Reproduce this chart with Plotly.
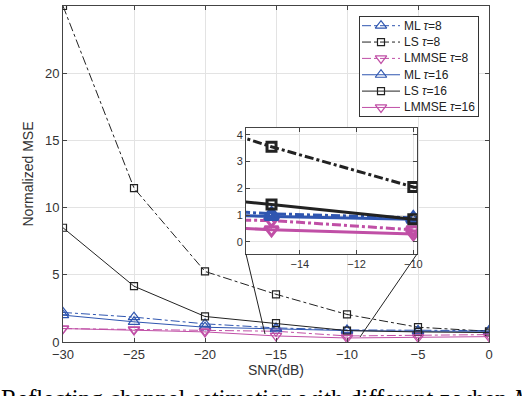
import plotly.graph_objects as go

snr = [-30, -25, -20, -15, -10, -5, 0]
ml_8 = [2.2, 1.85, 1.35, 1.05, 0.9, 0.85, 0.85]
ls_8 = [25.0, 11.45, 5.25, 3.55, 2.05, 1.1, 0.8]
lmmse_8 = [1.0, 0.95, 0.85, 0.8, 0.45, 0.5, 0.55]
ml_16 = [2.0, 1.5, 1.1, 0.95, 0.85, 0.8, 0.8]
ls_16 = [8.5, 4.15, 1.9, 1.4, 0.85, 0.75, 0.7]
lmmse_16 = [1.0, 0.9, 0.75, 0.45, 0.3, 0.35, 0.4]

names = ["ML <i>τ</i>=8", "LS <i>τ</i>=8", "LMMSE <i>τ</i>=8",
         "ML <i>τ</i>=16", "LS <i>τ</i>=16", "LMMSE <i>τ</i>=16"]
series = [ml_8, ls_8, lmmse_8, ml_16, ls_16, lmmse_16]
BLUE = "#2F56B0"
BLACK = "#222222"
PINK = "#C04FA6"
colors = [BLUE, BLACK, PINK, BLUE, BLACK, PINK]
dashes = ["dashdot", "dashdot", "dashdot", "solid", "solid", "solid"]
symbols = ["triangle-up-open", "square-open", "triangle-down-open"] * 2
sizes = [10, 7, 10, 10, 7, 10]

x_ticks = [-30, -25, -20, -15, -10, -5, 0]
y_ticks = [0, 5, 10, 15, 20, 25]
inset_x_ticks = [-14, -12, -10]
inset_y_ticks = [0, 1, 2, 3, 4]

# pixel geometry of the figure
W, H = 522, 396
PL, PR, PT, PB = 63, 489, 6, 342
pw, ph = PR - PL, PB - PT


def px(x):
    return (x - PL) / pw


def py(y):
    return (PB - y) / ph


fig = go.Figure()
for n, s, c, d, sym, sz in zip(names, series, colors, dashes, symbols, sizes):
    fig.add_trace(go.Scatter(x=snr, y=s, name=n, mode="lines+markers", showlegend=False,
                             line=dict(color=c, width=1, dash=d),
                             marker=dict(symbol=sym, size=sz, color=c, line=dict(width=1.2, color=c)),
                             xaxis="x", yaxis="y"))
for n, s, c, d, sym, sz in zip(names, series, colors, dashes, symbols, sizes):
    fig.add_trace(go.Scatter(x=snr, y=s, name=n, mode="lines+markers", showlegend=False,
                             line=dict(color=c, width=3, dash=d),
                             marker=dict(symbol=sym, size=sz + 2, color=c, line=dict(width=3, color=c)),
                             xaxis="x2", yaxis="y2"))

# legend drawn in its own small subplot (x3/y3), units in pixels of the legend box
LX0, LX1, LY0, LY1 = 360, 478, 17, 116
for i, (n, c, d, sym, sz) in enumerate(zip(names, colors, dashes, symbols, sizes)):
    yy = 8.7 + 16.35 * i
    fig.add_trace(go.Scatter(x=[2, 40], y=[yy, yy], mode="lines", showlegend=False, hoverinfo="skip",
                             line=dict(color=c, width=1, dash=d), xaxis="x3", yaxis="y3"))
    fig.add_trace(go.Scatter(x=[21], y=[yy], mode="markers", showlegend=False, hoverinfo="skip",
                             marker=dict(symbol=sym, size=sz, color=c, line=dict(width=1.2, color=c)),
                             xaxis="x3", yaxis="y3"))
    fig.add_annotation(text=n, xref="x3", yref="y3", x=42, y=yy, xanchor="left", yanchor="middle",
                       showarrow=False, font=dict(family="Liberation Sans", size=12, color="#222222"))

tick_font = dict(family="Liberation Sans", size=13, color="#333333")
axis_common = dict(showline=True, linecolor="#444444", linewidth=1, mirror="ticks",
                   ticks="inside", ticklen=4, tickcolor="#444444", automargin=False,
                   showgrid=True, gridcolor="#E3E3E3", gridwidth=1, zeroline=False,
                   tickfont=tick_font)
inset_common = dict(axis_common, tickfont=dict(family="Liberation Sans", size=11, color="#333333"))
title_font = dict(family="Liberation Sans", size=14, color="#333333")

fig.update_layout(
    width=W, height=H,
    margin=dict(l=PL, r=W - PR, t=PT, b=H - PB, autoexpand=False),
    paper_bgcolor="white", plot_bgcolor="white",
    xaxis=dict(range=[-30, 0], tickvals=x_ticks, domain=[0, 1],
               title=dict(text="SNR(dB)", font=title_font, standoff=3),
               **axis_common),
    yaxis=dict(range=[0, 25], tickvals=y_ticks, domain=[0, 1],
               title=dict(text="Normalized MSE", font=title_font, standoff=8),
               **axis_common),
    xaxis2=dict(range=[-15.9, -9.87], tickvals=inset_x_ticks, domain=[px(246), px(417)], anchor="y2",
                **inset_common),
    yaxis2=dict(range=[-0.45, 4.25], tickvals=inset_y_ticks, domain=[py(254), py(128)], anchor="x2",
                **inset_common),
    xaxis3=dict(range=[0, LX1 - LX0], domain=[px(LX0), px(LX1)], anchor="y3", visible=True,
                showgrid=False, zeroline=False, showticklabels=False, ticks="",
                showline=True, mirror=True, linecolor="#333333", linewidth=1, automargin=False),
    yaxis3=dict(range=[LY1 - LY0, 0], domain=[py(LY1), py(LY0)], anchor="x3", visible=True,
                showgrid=False, zeroline=False, showticklabels=False, ticks="",
                showline=True, mirror=True, linecolor="#333333", linewidth=1, automargin=False),
    showlegend=False,
)

# zoom connector lines
fig.add_shape(type="line", xref="paper", yref="paper",
              x0=px(246), y0=py(254), x1=px(265), y1=py(334),
              line=dict(color="#222222", width=1))
fig.add_shape(type="line", xref="paper", yref="paper",
              x0=px(417), y0=py(254), x1=px(360), y1=py(337),
              line=dict(color="#222222", width=1))

fig.add_annotation(text="Reflecting channel estimation with different <i>τ</i> when <i>M</i>",
                   xref="paper", yref="paper", x=px(-1), y=py(383),
                   xanchor="left", yanchor="top", showarrow=False,
                   font=dict(family="Liberation Serif", size=24.5, color="black"))

fig.write_html("out.html", config={"displayModeBar": False},
               post_script="document.body.style.margin='0';document.body.style.overflow='hidden';")
